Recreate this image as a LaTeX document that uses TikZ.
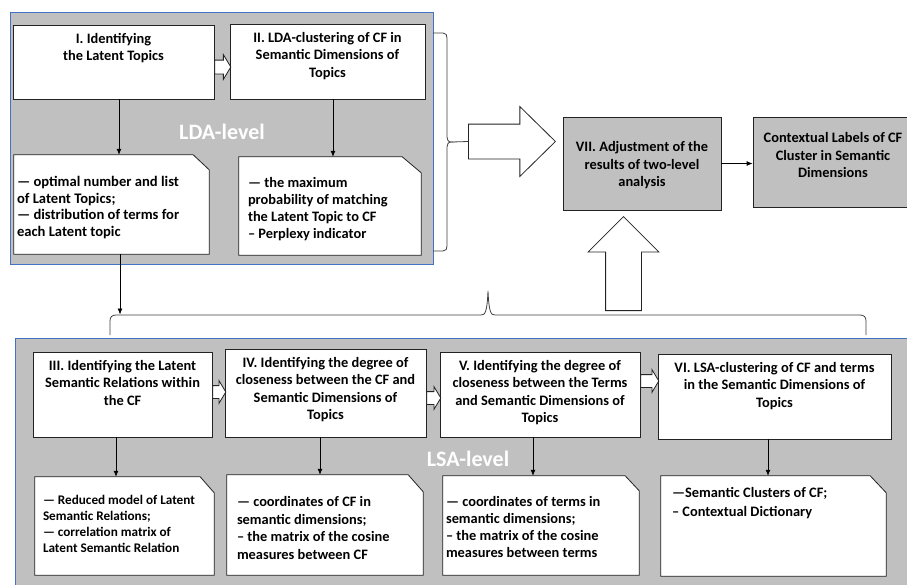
\documentclass[tikz,border=0pt]{standalone}
\usepackage{fontspec}
\setmainfont{Carlito}
\usetikzlibrary{arrows.meta,shapes.arrows,calc}
\pgfdeclarelayer{framelayer}
\pgfdeclarelayer{notelayer}
\pgfsetlayers{framelayer,notelayer,main}
\definecolor{lvlgray}{RGB}{192,192,192}
\definecolor{lvlblue}{RGB}{68,114,196}
\definecolor{edgec}{RGB}{35,35,35}
\newcommand{\ttlbox}[4]{\parbox[c][#2][t]{#1}{\centering\fontsize{14.4}{17.5}\selectfont\bfseries\rule{0pt}{#3}#4\par}}
\newcommand{\notetxt}[6]{\parbox[c][#2][t]{#1}{\raggedright\fontsize{#4}{#5}\selectfont\bfseries\rule{0pt}{#3}#6\par}}
\newcommand{\dogear}[3]{\begin{pgfonlayer}{notelayer}\filldraw[notebg] (#1.north west) -- ([xshift=-#2]#1.north east) -- ([yshift=-#3]#1.north east) -- (#1.south east) -- (#1.south west) -- cycle;\end{pgfonlayer}}
\tikzset{
  stagebox/.style={draw=edgec, fill=white, line width=0.8pt, inner sep=0pt},
  graybox/.style={stagebox, fill=lvlgray},
  notenode/.style={inner ysep=0pt},
  notebg/.style={draw=edgec, fill=white, line width=0.8pt},
  framebox/.style={draw=lvlblue, fill=lvlgray, line width=0.9pt},
  lvl/.style={text=white, font=\fontsize{22}{26}\selectfont\bfseries, inner sep=0pt},
  arr/.style={draw=black, line width=0.8pt, -{Latex[length=6pt,width=5pt]}},
  hollow/.style={single arrow, draw=edgec, fill=white, line width=0.8pt, inner xsep=0pt, minimum width=0pt, text height=0pt, text depth=0pt, single arrow head indent=0pt},
  bracestyle/.style={draw=black!75, line width=0.8pt}
}
\begin{document}
\begin{tikzpicture}[x=1pt,y=-1pt]
\useasboundingbox (0,0) rectangle (907,584);
\begin{pgfonlayer}{framelayer}
\fill[white] (0,0) rectangle (907,584);
\filldraw[framebox] (10,12) rectangle (433,264);
\filldraw[framebox] (15,338) rectangle (915,595);
\end{pgfonlayer}

% level labels
\node[lvl] (ldalbl) at (222,132) {LDA-level};
\node[lvl] (lsalbl) at (468,459) {LSA-level};

% LDA stage boxes
\node[stagebox] (s1) at (113.5,62) {\ttlbox{201pt}{74pt}{18pt}{I. Identifying\\the Latent Topics}};
\node[stagebox] (s2) at (327.5,61.5) {\ttlbox{195pt}{75pt}{18pt}{II. LDA-clustering of CF in\\Semantic Dimensions of\\Topics}};

% LDA notes
\node[notenode, inner xsep=3pt] (n1) at (111.5,204.5) {\notetxt{189pt}{99pt}{31.5pt}{14.6}{16.5}{— optimal number and list\\of Latent Topics;\\— distribution of terms for\\each Latent topic}};
\dogear{n1}{16pt}{15pt}
\node[notenode, inner xsep=9pt] (n2) at (330,206) {\notetxt{164pt}{98pt}{30.5pt}{14.4}{17}{— the maximum\\probability of matching\\the Latent Topic to CF\\– Perplexy indicator}};
\dogear{n2}{19pt}{16pt}

% LSA stage boxes
\node[stagebox] (s3) at (122.5,394.5) {\ttlbox{179pt}{85pt}{18pt}{III. Identifying the Latent\\Semantic Relations within\\the CF}};
\node[stagebox] (s4) at (325.5,393) {\ttlbox{201pt}{88pt}{18pt}{IV. Identifying the degree of\\closeness between the CF and\\Semantic Dimensions of\\Topics}};
\node[stagebox] (s5) at (540,394.5) {\ttlbox{200pt}{85pt}{18pt}{V. Identifying the degree of\\closeness between the Terms\\and Semantic Dimensions of\\Topics}};
\node[stagebox] (s6) at (774.5,396.5) {\ttlbox{233pt}{85pt}{18pt}{VI. LSA-clustering of CF and terms\\in the Semantic Dimensions of\\Topics}};

% LSA notes
\node[notenode, inner xsep=8pt] (n3) at (124.5,526) {\notetxt{163pt}{98pt}{27.5pt}{13.2}{16}{— Reduced model of Latent\\Semantic Relations;\\— correlation matrix of\\Latent Semantic Relation}};
\dogear{n3}{14pt}{16pt}
\node[notenode, inner xsep=10pt] (n4) at (325,525) {\notetxt{176pt}{100pt}{31.5pt}{14.4}{17.5}{— coordinates of CF in\\semantic dimensions;\\– the matrix of the cosine\\measures between CF}};
\dogear{n4}{15pt}{17pt}
\node[notenode, inner xsep=3pt] (n5) at (541,525.5) {\notetxt{190pt}{99pt}{30.5pt}{14.4}{17}{— coordinates of terms in\\semantic dimensions;\\– the matrix of the cosine\\measures between terms}};
\dogear{n5}{14pt}{15pt}
\node[notenode, inner xsep=11pt] (n6) at (773.5,526) {\notetxt{203pt}{100pt}{21.5pt}{14.4}{19}{—Semantic Clusters of CF;\\– Contextual Dictionary}};
\dogear{n6}{16pt}{17pt}

% result boxes
\node[graybox] (s7) at (642,163.5) {\ttlbox{158pt}{93pt}{34.5pt}{VII. Adjustment of the\\results of two-level\\analysis}};
\node[graybox] (ctx) at (833,162) {\ttlbox{160pt}{90pt}{25.5pt}{Contextual Labels of CF\\Cluster in Semantic\\Dimensions}};

% small hollow arrows
\node[hollow, inner ysep=6.5pt, single arrow head extend=5.5pt, single arrow tip angle=118, minimum height=16pt, anchor=tail] (h12) at (s1.east |- 0,67) {};
\node[hollow, inner ysep=6pt, single arrow head extend=5pt, single arrow tip angle=118, minimum height=13pt, anchor=tail] (h34) at (s3.east |- 0,392) {};
\node[hollow, inner ysep=6pt, single arrow head extend=5pt, single arrow tip angle=118, minimum height=14pt, anchor=tail] (h45) at (s4.east |- 0,398) {};
\node[hollow, inner ysep=6pt, single arrow head extend=5pt, single arrow tip angle=118, minimum height=18pt, anchor=tail] (h56) at (s5.east |- 0,381) {};

% big hollow arrows
\node[hollow, inner ysep=17pt, single arrow head extend=17.5pt, single arrow tip angle=89, minimum height=87pt, anchor=tail] (bigR) at (468,141.5) {};
\node[hollow, inner sep=17.5pt, single arrow head extend=17.5pt, single arrow tip angle=90, minimum height=94pt, shape border rotate=90, anchor=tail] (bigU) at (623.5,311) {};

% braces
\draw[bracestyle] (433,33) -- (443,33) .. controls (446,33) and (447,35) .. (447,38) -- (447,137) .. controls (447,140) and (448,142) .. (452,142) .. controls (448,142) and (447,144) .. (447,147) -- (447,246) .. controls (447,249) and (446,251) .. (443,251) -- (433,251);
\coordinate (rbt) at (452,142);
\draw[bracestyle] (rbt) -- (bigR.tail);
\draw[bracestyle] (110,335) -- (110,321) .. controls (110,317) and (112,315) .. (116,315) -- (481,315) .. controls (485,315) and (487,313) .. (488,291) .. controls (489,313) and (491,315) .. (495,315) -- (860,315) .. controls (864,315) and (866,317) .. (866,321) -- (866,335);
\coordinate (lbr) at (120,314.5);

% arrows
\draw[arr] ($(s1.south)+(5.5,0)$) -- ($(s1.south |- n1.north)+(5.5,0)$);
\draw[arr] ($(s2.south)+(5.5,0)$) -- ($(s2.south |- n2.north)+(5.5,0)$);
\draw[arr] ($(s3.south)+(-6.5,0)$) -- ($(s3.south |- n3.north)+(-6.5,0)$);
\draw[arr] ($(s4.south)+(-5.5,0)$) -- ($(s4.south |- n4.north)+(-5.5,0)$);
\draw[arr] ($(s5.south)+(-7,0)$) -- ($(s5.south |- n5.north)+(-7,0)$);
\draw[arr] ($(s6.south)+(-6.5,0)$) -- ($(s6.south |- n6.north)+(-6.5,0)$);
\draw[arr] ($(n1.south)+(8.5,0)$) -- (lbr);
\draw[arr] (s7.east) -- (s7.east -| ctx.west);
\end{tikzpicture}
\end{document}
